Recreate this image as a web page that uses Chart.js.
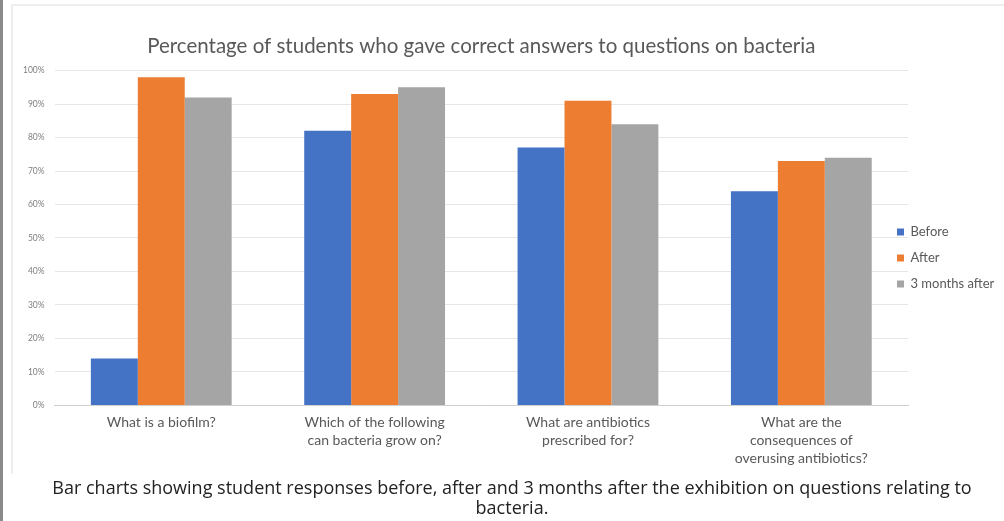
<!DOCTYPE html>
<html>
<head>
<meta charset="utf-8">
<script src="https://cdn.jsdelivr.net/npm/chart.js@4.4.1/dist/chart.umd.min.js"></script>
<style>
  body { margin: 0; background: #fff; width: 1004px; height: 521px; overflow: hidden; position: relative; }
  #edge { position: absolute; left: 0; top: 0; width: 3px; height: 521px; background: #8a8a8a; }
  #frame { position: absolute; left: 11px; top: 4px; width: 993px; height: 470px; border-top: 2px solid #eeeeee; border-left: 2px solid #eeeeee; box-sizing: border-box; }
  #wrap { position: absolute; left: 13px; top: 6px; width: 991px; height: 470px; }
  #caption { position: absolute; left: 42px; top: 477px; width: 940px; text-align: center; font-family: "Open Sans", sans-serif; font-size: 18px; line-height: 20px; color: #222; background: #fff; }
</style>
</head>
<body>
<div id="edge"></div>
<div id="frame"></div>
<div id="wrap"><canvas id="chart"></canvas></div>
<div id="caption">Bar charts showing student responses before, after and 3 months after the exhibition on questions relating to bacteria.</div>
<script>
// question labels (multi-line as in the original)
const questions = [
    ['What is a biofilm?'],
    ['Which of the following', 'can bacteria grow on?'],
    ['What are antibiotics', 'prescribed for?'],
    ['What are the', 'consequences of', 'overusing antibiotics?']
];
const before = [14, 82, 77, 64];
const after = [98, 93, 91, 73];
const threeMonthsAfter = [92, 95, 84, 74];

// excel puts the legend slightly over the plot edge, nudge it there
const legendNudge = {
    id: 'legendNudge',
    afterLayout(chart) {
        const lg = chart.legend;
        lg.left -= 24;
        lg.top += 3;
        lg.bottom += 3;
    }
};

document.addEventListener('DOMContentLoaded', function() {
    const ctx = document.getElementById('chart').getContext('2d');
    const chart = new Chart(ctx, {
        type: 'bar',
        data: {
            labels: questions,
            datasets: [
                { label: 'Before', data: before, backgroundColor: '#4472c4' },
                { label: 'After', data: after, backgroundColor: '#ed7d31' },
                { label: '3 months after', data: threeMonthsAfter, backgroundColor: '#a5a5a5' }
            ]
        },
        options: {
            responsive: true,
            maintainAspectRatio: false,
            animation: false,
            datasets: { bar: { categoryPercentage: 0.66, barPercentage: 1.0 } },
            layout: { padding: { left: 0, right: 0, top: 28, bottom: 0 } },
            plugins: {
                title: {
                    display: true,
                    fullSize: false,
                    text: 'Percentage of students who gave correct answers to questions on bacteria',
                    color: '#595959',
                    font: { family: 'Lato', size: 20.5, weight: 'normal' },
                    padding: { top: 0, bottom: 12 }
                },
                legend: {
                    position: 'right',
                    align: 'center',
                    labels: {
                        boxWidth: 7,
                        boxHeight: 7,
                        padding: 13,
                        color: '#595959',
                        font: { family: 'Lato', size: 13 }
                    }
                },
                tooltip: { enabled: false }
            },
            scales: {
                x: {
                    grid: { display: false, drawTicks: false },
                    border: { color: '#d0d0d0' },
                    ticks: {
                        color: '#595959',
                        font: { family: 'Lato', size: 14, lineHeight: 1.3 },
                        maxRotation: 0,
                        padding: 8
                    }
                },
                y: {
                    min: 0,
                    max: 100,
                    grid: { color: '#e6e6e6', drawTicks: false },
                    border: { display: false },
                    ticks: {
                        stepSize: 10,
                        color: '#7f7f7f',
                        font: { family: 'Lato', size: 8.5 },
                        padding: 10,
                        callback: v => v + '%'
                    }
                }
            }
        },
        plugins: [legendNudge]
    });

    // narrow the legend box so the plot area reaches as far right as in the original
    const fit = chart.legend.fit;
    chart.legend.fit = function() {
        fit.call(this);
        this.width = 96;
    };
    chart.update();
});
</script>
</body>
</html>
